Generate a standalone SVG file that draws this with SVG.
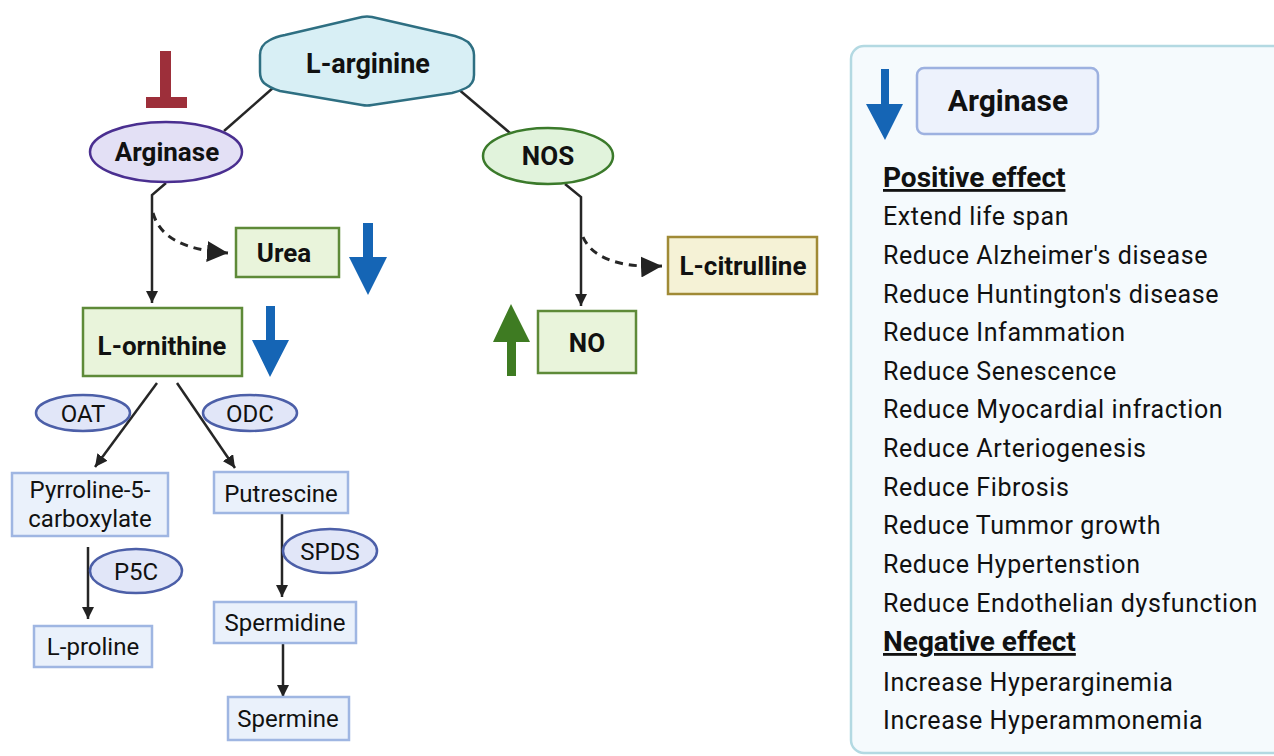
<svg xmlns="http://www.w3.org/2000/svg" width="1274" height="756" viewBox="0 0 1274 756">
<defs>
<marker id="ah" viewBox="0 0 10 10" refX="10" refY="5" markerWidth="5" markerHeight="5" markerUnits="strokeWidth" orient="auto">
<path d="M0,0 L10,5 L0,10 Z" fill="#222"/>
</marker>
<marker id="ahd" viewBox="0 0 10 10" refX="10" refY="5" markerWidth="7" markerHeight="7" markerUnits="strokeWidth" orient="auto">
<path d="M0,0 L10,5 L0,10 Z" fill="#222"/>
</marker>
</defs>
<style>
.b{font-family:Roboto,"Liberation Sans",sans-serif;font-weight:bold;font-size:26px;fill:#111;text-anchor:middle}
.r{font-family:Roboto,"Liberation Sans",sans-serif;font-size:24px;fill:#111;text-anchor:middle}
.l{font-family:Roboto,"Liberation Sans",sans-serif;font-size:25px;letter-spacing:0.6px;fill:#111}
.lb{font-family:Roboto,"Liberation Sans",sans-serif;font-size:28px;font-weight:bold;fill:#111;text-decoration:underline}
.sb{fill:#eaf1fb;stroke:#9fb6e2;stroke-width:2.5}
.en{fill:#e1e6f8;stroke:#4c5fa8;stroke-width:2.5}
.gb{fill:#e9f4db;stroke:#5e8a38;stroke-width:2.5}
.c{fill:none;stroke:#262626;stroke-width:2.5}
.d{fill:none;stroke:#262626;stroke-width:3;stroke-dasharray:8 6}
.blue{fill:#1565b5}
</style>
<rect width="1274" height="756" fill="#fff"/>

<g id="connectors">
<path class="c" d="M274,87 L224,131"/>
<path class="c" d="M457,88 L510,133"/>
<path class="c" d="M166,183 L152,195 L152,303" marker-end="url(#ah)"/>
<path class="d" d="M153,213 C160,238 185,250 228,253" marker-end="url(#ahd)"/>
<path class="c" d="M565,184 L581,197 L581,306" marker-end="url(#ah)"/>
<path class="d" d="M583,237 C592,258 620,268 662,266" marker-end="url(#ahd)"/>
<path class="c" d="M157,383 L95,467" marker-end="url(#ah)"/>
<path class="c" d="M177,383 L235,468" marker-end="url(#ah)"/>
<path class="c" d="M88,547 L88,619" marker-end="url(#ah)"/>
<path class="c" d="M282,514 L282,597" marker-end="url(#ah)"/>
<path class="c" d="M283,643 L283,697" marker-end="url(#ah)"/>
</g>

<g id="l-arginine">
<path d="M270,40 Q275,37 285,35 L362,17 Q367,16 372,17 L455,36 Q462,38 468,42 Q474,48 474,55 L474,75 Q474,84 466,88 Q460,91 452,93 L372,105 Q367,106 362,105 L280,91 Q270,88 264,83 Q260,79 260,72 L260,55 Q260,45 270,40 Z" fill="#d8eff5" stroke="#2e6f82" stroke-width="2.5"/>
<text class="b" x="368" y="73" style="font-size:27px">L-arginine</text>
</g>

<g id="inhibit">
<rect x="160" y="51" width="11" height="57" fill="#9d2f3a"/>
<rect x="146" y="97" width="41" height="11" fill="#9d2f3a"/>
</g>

<g id="arginase">
<ellipse cx="166" cy="152" rx="76" ry="30" fill="#e3e0f5" stroke="#4a2f90" stroke-width="2.5"/>
<text class="b" x="167" y="161">Arginase</text>
</g>

<g id="nos">
<ellipse cx="548" cy="156" rx="65" ry="28" fill="#e1f3dc" stroke="#3b7a2b" stroke-width="2.5"/>
<text class="b" x="548" y="165">NOS</text>
</g>

<g id="urea">
<rect class="gb" x="236" y="228" width="103" height="49"/>
<text class="b" x="284" y="262">Urea</text>
</g>
<g id="urea-down">
<path class="blue" d="M363,223 L373,223 L373,257 L387,257 L368,295 L349,257 L363,257 Z"/>
</g>

<g id="l-citrulline">
<rect x="668" y="237" width="149" height="57" fill="#f5f2d6" stroke="#a08a36" stroke-width="2.5"/>
<text class="b" x="743" y="275">L-citrulline</text>
</g>

<g id="no">
<rect class="gb" x="538" y="311" width="98" height="62"/>
<text class="b" x="587" y="352">NO</text>
</g>
<g id="no-up">
<path fill="#3e7b22" d="M507,376 L516,376 L516,342 L530,342 L511,304 L493,342 L507,342 Z"/>
</g>

<g id="l-ornithine">
<rect class="gb" x="83" y="308" width="159" height="68"/>
<text class="b" x="162" y="355">L-ornithine</text>
</g>
<g id="ornithine-down">
<path class="blue" d="M266,306 L275,306 L275,340 L289,340 L270,377 L252,340 L266,340 Z"/>
</g>

<g id="oat">
<ellipse class="en" cx="83" cy="413" rx="47" ry="18"/>
<text class="r" x="83" y="422">OAT</text>
</g>
<g id="odc">
<ellipse class="en" cx="250" cy="413" rx="47" ry="18"/>
<text class="r" x="250" y="422">ODC</text>
</g>

<g id="pyrroline">
<rect class="sb" x="12" y="473" width="156" height="63"/>
<text class="r" x="90" y="498">Pyrroline-5-</text>
<text class="r" x="90" y="527">carboxylate</text>
</g>
<g id="putrescine">
<rect class="sb" x="214" y="472" width="134" height="41"/>
<text class="r" x="281" y="502">Putrescine</text>
</g>
<g id="p5c">
<ellipse class="en" cx="136" cy="571" rx="46" ry="22"/>
<text class="r" x="136" y="580">P5C</text>
</g>
<g id="spds">
<ellipse class="en" cx="330" cy="551" rx="47" ry="22"/>
<text class="r" x="330" y="560">SPDS</text>
</g>
<g id="l-proline">
<rect class="sb" x="34" y="626" width="118" height="41"/>
<text class="r" x="93" y="655">L-proline</text>
</g>
<g id="spermidine">
<rect class="sb" x="214" y="602" width="142" height="41"/>
<text class="r" x="285" y="631">Spermidine</text>
</g>
<g id="spermine">
<rect class="sb" x="228" y="697" width="121" height="43"/>
<text class="r" x="288" y="727">Spermine</text>
</g>

<g id="panel">
<rect x="851" y="46" width="440" height="707" rx="13" fill="#f5fafd" stroke="#b3d9e2" stroke-width="2.5"/>
<path class="blue" d="M881,69 L889,69 L889,104 L903,104 L885,140 L866,104 L881,104 Z"/>
<rect x="917" y="68" width="181" height="66" rx="7" fill="#edf2fc" stroke="#9db1e0" stroke-width="2.5"/>
<text class="b" x="1008" y="111" style="font-size:30px">Arginase</text>
<text class="lb" x="883" y="187">Positive effect</text>
<text class="l" x="883" y="225">Extend life span</text>
<text class="l" x="883" y="264">Reduce Alzheimer's disease</text>
<text class="l" x="883" y="303">Reduce Huntington's disease</text>
<text class="l" x="883" y="341">Reduce Infammation</text>
<text class="l" x="883" y="380">Reduce Senescence</text>
<text class="l" x="883" y="418">Reduce Myocardial infraction</text>
<text class="l" x="883" y="457">Reduce Arteriogenesis</text>
<text class="l" x="883" y="496">Reduce Fibrosis</text>
<text class="l" x="883" y="534">Reduce Tummor growth</text>
<text class="l" x="883" y="573">Reduce Hypertenstion</text>
<text class="l" x="883" y="612">Reduce Endothelian dysfunction</text>
<text class="lb" x="883" y="651">Negative effect</text>
<text class="l" x="883" y="691">Increase Hyperarginemia</text>
<text class="l" x="883" y="729">Increase Hyperammonemia</text>
</g>
</svg>
